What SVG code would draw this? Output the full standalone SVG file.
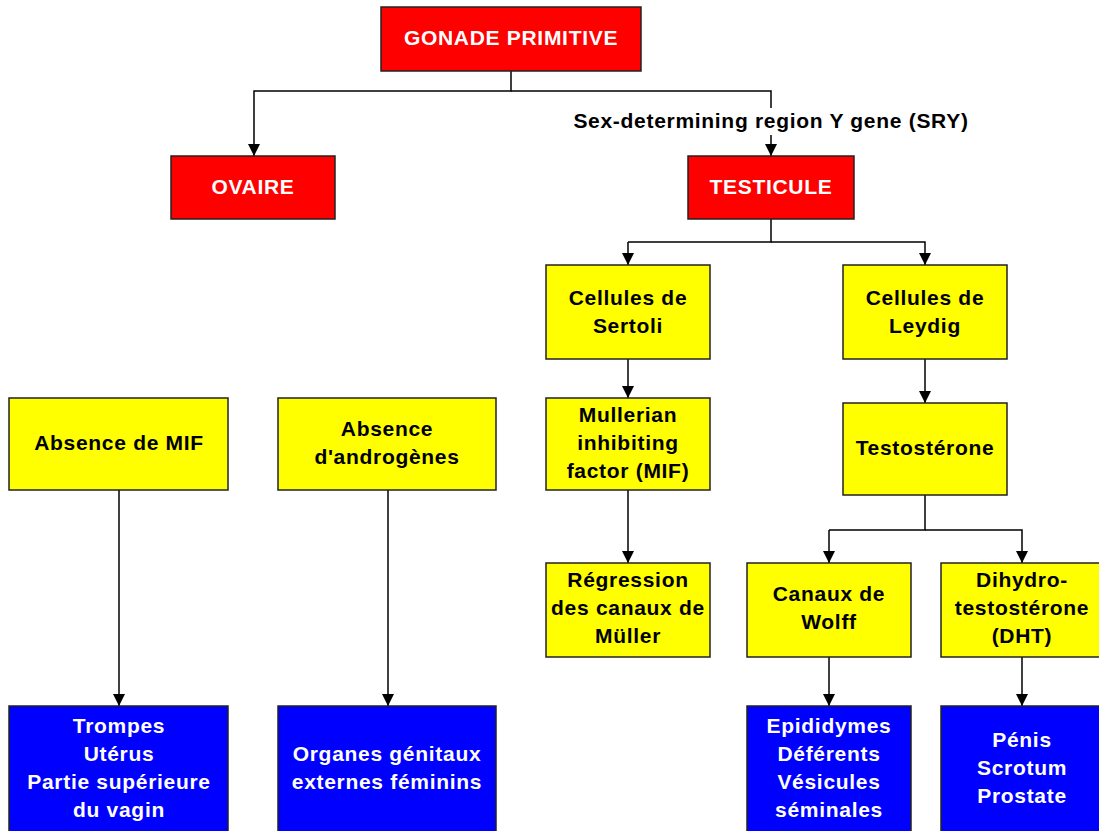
<svg xmlns="http://www.w3.org/2000/svg" width="1099" height="831" viewBox="0 0 1099 831">
<defs>
<marker id="arr" viewBox="0 0 10 10" refX="10" refY="5" markerWidth="13" markerHeight="12" markerUnits="userSpaceOnUse" orient="auto">
<path d="M0,0 L10,5 L0,10 z" fill="#000"/>
</marker>
<style>
text{font-family:"Liberation Sans",Arial,sans-serif;font-weight:bold;font-size:21px;letter-spacing:0.7px;text-anchor:middle}
.red rect{fill:#FF0000;stroke:#222;stroke-width:1.5}
.yel rect{fill:#FFFF00;stroke:#222;stroke-width:1.5}
.blu rect{fill:#0000FF;stroke:#222;stroke-width:1.5}
.red text,.blu text{fill:#fff}
.yel text{fill:#000}
.conn path{fill:none;stroke:#000;stroke-width:1.5}
.conn .a{marker-end:url(#arr)}
</style>
</defs>
<rect width="1099" height="831" fill="#fff"/>
<g id="connectors" class="conn">
<path class="a" d="M511,71 V91 H254 V156"/>
<path d="M511,91 H771 V108"/>
<path class="a" d="M771,135 V156"/>
<path d="M771,219 V242 H628"/>
<path class="a" d="M628,242 V265"/>
<path class="a" d="M771,242 H925 V265"/>
<path class="a" d="M628,359 V398"/>
<path class="a" d="M925,359 V403"/>
<path class="a" d="M628,490 V563"/>
<path d="M925,495 V530 H829"/>
<path class="a" d="M829,530 V563"/>
<path class="a" d="M925,530 H1022 V563"/>
<path class="a" d="M829,657 V706"/>
<path class="a" d="M1022,657 V706"/>
<path class="a" d="M119,490 V706"/>
<path class="a" d="M388,490 V706"/>
<text x="771" y="128" style="fill:#000">Sex-determining region Y gene (SRY)</text>
</g>
<g id="gonade" class="red"><rect x="381" y="7" width="260" height="64"/><text x="511" y="45">GONADE PRIMITIVE</text></g>
<g id="ovaire" class="red"><rect x="171" y="156" width="164" height="63"/><text x="253" y="194">OVAIRE</text></g>
<g id="testicule" class="red"><rect x="688" y="156" width="166" height="63"/><text x="771" y="194">TESTICULE</text></g>
<g id="sertoli" class="yel"><rect x="546" y="265" width="164" height="94"/><text x="628" y="305">Cellules de</text><text x="628" y="333">Sertoli</text></g>
<g id="leydig" class="yel"><rect x="843" y="265" width="164" height="94"/><text x="925" y="305">Cellules de</text><text x="925" y="333">Leydig</text></g>
<g id="mif" class="yel"><rect x="546" y="398" width="164" height="92"/><text x="628" y="422">Mullerian</text><text x="628" y="450">inhibiting</text><text x="628" y="478">factor (MIF)</text></g>
<g id="testosterone" class="yel"><rect x="843" y="403" width="164" height="92"/><text x="925" y="455">Testostérone</text></g>
<g id="absmif" class="yel"><rect x="9" y="398" width="219" height="92"/><text x="119" y="450">Absence de MIF</text></g>
<g id="absandro" class="yel"><rect x="278" y="398" width="218" height="92"/><text x="387" y="436">Absence</text><text x="387" y="464">d'androgènes</text></g>
<g id="regression" class="yel"><rect x="546" y="563" width="164" height="94"/><text x="628" y="587">Régression</text><text x="628" y="615">des canaux de</text><text x="628" y="643">Müller</text></g>
<g id="wolff" class="yel"><rect x="747" y="563" width="164" height="94"/><text x="829" y="601">Canaux de</text><text x="829" y="629">Wolff</text></g>
<g id="dht" class="yel"><rect x="941" y="563" width="164" height="94"/><text x="1022" y="587">Dihydro-</text><text x="1022" y="615">testostérone</text><text x="1022" y="643">(DHT)</text></g>
<g id="trompes" class="blu"><rect x="9" y="706" width="219" height="135"/><text x="119" y="733">Trompes</text><text x="119" y="761">Utérus</text><text x="119" y="789">Partie supérieure</text><text x="119" y="817">du vagin</text></g>
<g id="organes" class="blu"><rect x="278" y="706" width="218" height="135"/><text x="387" y="761">Organes génitaux</text><text x="387" y="789">externes féminins</text></g>
<g id="epididymes" class="blu"><rect x="747" y="706" width="164" height="135"/><text x="829" y="733">Epididymes</text><text x="829" y="761">Déférents</text><text x="829" y="789">Vésicules</text><text x="829" y="817">séminales</text></g>
<g id="penis" class="blu"><rect x="941" y="706" width="164" height="135"/><text x="1022" y="747">Pénis</text><text x="1022" y="775">Scrotum</text><text x="1022" y="803">Prostate</text></g>
</svg>
